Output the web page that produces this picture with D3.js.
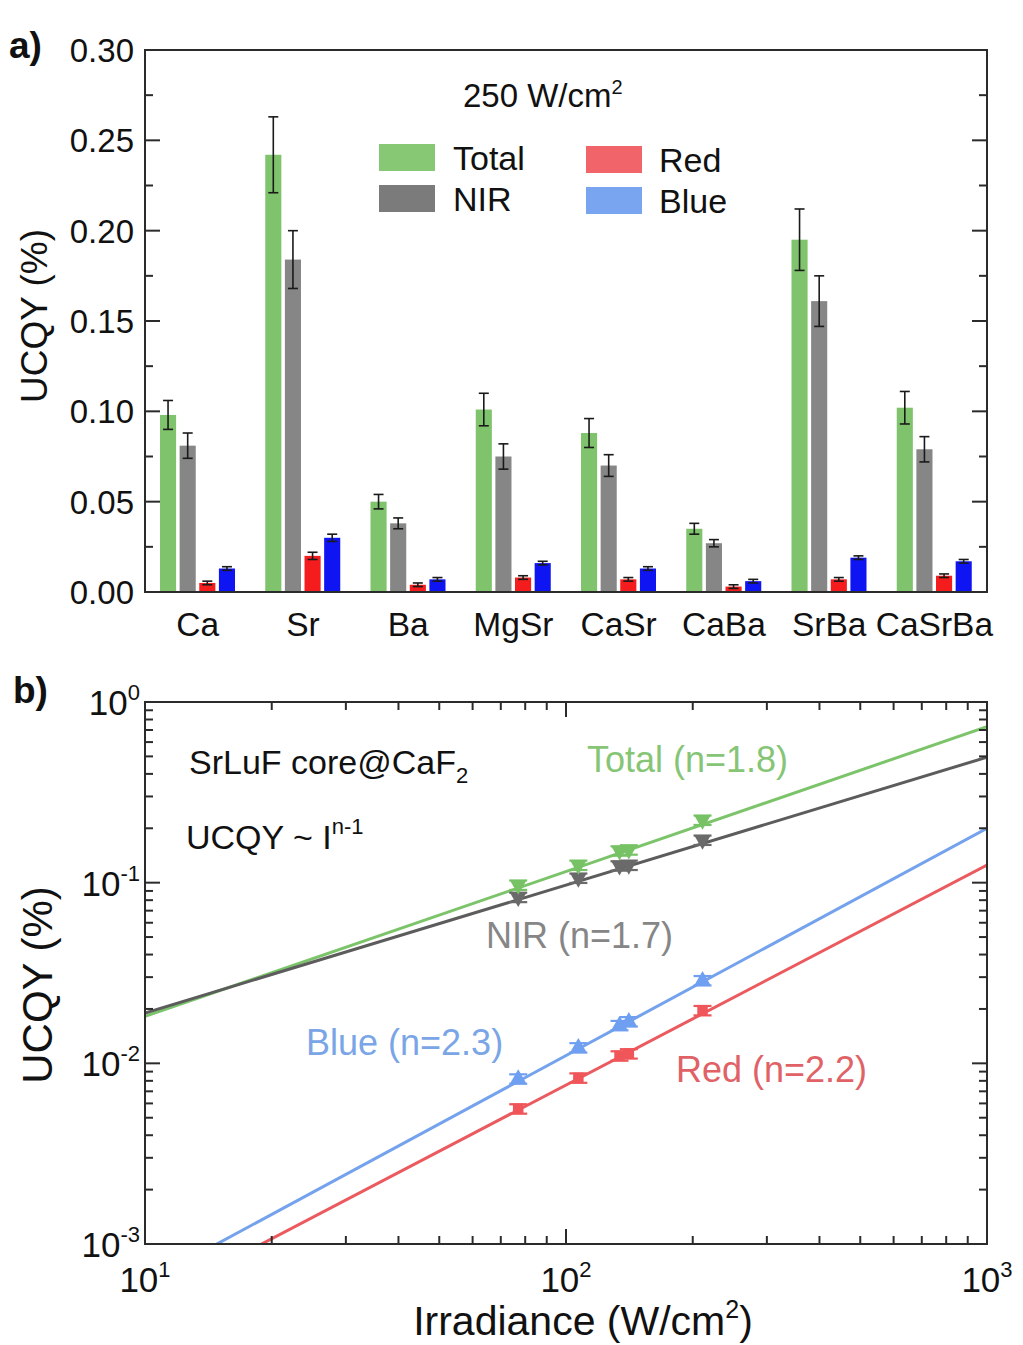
<!DOCTYPE html>
<html><head><meta charset="utf-8">
<script src="https://cdn.jsdelivr.net/npm/d3@7/dist/d3.min.js"></script>
<style>
body{margin:0;background:#fff;}
svg{display:block;font-family:Arial,"Liberation Sans",sans-serif;}
</style></head>
<body>
<svg id="chart" width="1023" height="1345"></svg>
<script>
// ---------- Panel a data ----------
const categories = ["Ca","Sr","Ba","MgSr","CaSr","CaBa","SrBa","CaSrBa"];
const seriesNames = ["Total","NIR","Red","Blue"];
const totalVals = [0.098,0.242,0.050,0.101,0.088,0.035,0.195,0.102];
const totalErr  = [0.008,0.021,0.004,0.009,0.008,0.003,0.017,0.009];
const nirVals   = [0.081,0.184,0.038,0.075,0.070,0.027,0.161,0.079];
const nirErr    = [0.007,0.016,0.003,0.007,0.006,0.002,0.014,0.007];
const redVals   = [0.005,0.020,0.004,0.008,0.007,0.003,0.007,0.009];
const redErr    = [0.001,0.002,0.001,0.001,0.001,0.001,0.001,0.001];
const blueVals  = [0.013,0.030,0.007,0.016,0.013,0.006,0.019,0.017];
const blueErr   = [0.001,0.002,0.001,0.001,0.001,0.001,0.001,0.001];
const barTicks  = [0,0.05,0.10,0.15,0.20,0.25,0.30];

// ---------- Panel b data ----------
const irradiance = [77,107,134,141,211];
const totalQY = [0.097,0.125,0.150,0.152,0.222];
const nirQY   = [0.083,0.106,0.124,0.125,0.172];
const blueQY  = [0.0082,0.0122,0.0162,0.0170,0.0287];
const redQY   = [0.0056,0.0083,0.0110,0.0113,0.0196];
const relErr  = [0.06,0.06,0.06,0.06,0.06];
const fitIrr  = [10,1000];
const totalFit = [0.0182,0.73];
const nirFit   = [0.019,0.495];
const blueFit  = [0.00061,0.20];
const redFit   = [0.00046,0.125];
const logYTicks = [1,0.1,0.01,0.001];
const logXTicks = [10,100,1000];

const svg = d3.select("#chart");
const frameColor = "#2b2b2b";

// ================= Panel a =================
const A = {l:145,r:987,t:50,b:592};
const xA = d3.scaleBand().domain(categories).range([A.l,A.r]).padding(0);
const xSub = d3.scaleBand().domain(seriesNames).range([15,90]).paddingInner(0.18);
const yA = d3.scaleLinear().domain([0,0.30]).range([A.b,A.t]);

const barColors = {Total:"#7fc46c",NIR:"#868686",Red:"#f41c1c",Blue:"#0f14f2"};
const legendColors = {Total:"#86c873",NIR:"#7b7b7b",Red:"#f0646a",Blue:"#78a4f0"};
const vals = {Total:totalVals,NIR:nirVals,Red:redVals,Blue:blueVals};
const errs = {Total:totalErr,NIR:nirErr,Red:redErr,Blue:blueErr};

const gA = svg.append("g");
seriesNames.forEach(s=>{
  const g = gA.append("g");
  categories.forEach((c,i)=>{
    const x0 = xA(c)+xSub(s), w = xSub.bandwidth(), v = vals[s][i], e = errs[s][i];
    g.append("rect").attr("x",x0).attr("y",yA(v)).attr("width",w).attr("height",yA(0)-yA(v))
      .attr("fill",barColors[s]);
    const cx = x0+w/2;
    const eg = g.append("g").attr("stroke","#1a1a1a").attr("stroke-width",1.6);
    eg.append("line").attr("x1",cx).attr("x2",cx).attr("y1",yA(v+e)).attr("y2",yA(v-e));
    eg.append("line").attr("x1",cx-5).attr("x2",cx+5).attr("y1",yA(v+e)).attr("y2",yA(v+e));
    eg.append("line").attr("x1",cx-5).attr("x2",cx+5).attr("y1",yA(v-e)).attr("y2",yA(v-e));
  });
});

gA.append("rect").attr("x",A.l).attr("y",A.t).attr("width",A.r-A.l).attr("height",A.b-A.t)
  .attr("fill","none").attr("stroke",frameColor).attr("stroke-width",2);

const yMinor = d3.range(0.025,0.30,0.05);
const tickG = gA.append("g").attr("stroke",frameColor).attr("stroke-width",2);
barTicks.forEach(t=>{
  tickG.append("line").attr("x1",A.l).attr("x2",A.l+15).attr("y1",yA(t)).attr("y2",yA(t));
  tickG.append("line").attr("x1",A.r).attr("x2",A.r-15).attr("y1",yA(t)).attr("y2",yA(t));
});
yMinor.forEach(t=>{
  tickG.append("line").attr("x1",A.l).attr("x2",A.l+8).attr("y1",yA(t)).attr("y2",yA(t));
  tickG.append("line").attr("x1",A.r).attr("x2",A.r-8).attr("y1",yA(t)).attr("y2",yA(t));
});
barTicks.forEach(t=>{
  gA.append("text").attr("x",134).attr("y",yA(t)).attr("dy","0.36em").attr("text-anchor","end")
    .attr("font-size",33).attr("fill","#111").text(d3.format(".2f")(t));
});
categories.forEach(c=>{
  gA.append("text").attr("x",xA(c)+xA.bandwidth()/2).attr("y",636).attr("text-anchor","middle")
    .attr("font-size",33.5).attr("fill","#111").text(c);
});
gA.append("text").attr("transform","translate(47,316) rotate(-90)").attr("text-anchor","middle")
  .attr("font-size",37).attr("fill","#111").text("UCQY (%)");
gA.append("text").attr("x",9).attr("y",58).attr("font-size",37).attr("font-weight","bold").attr("fill","#111").text("a)");

const tt = gA.append("text").attr("x",463).attr("y",107).attr("font-size",33).attr("fill","#111");
tt.append("tspan").text("250 W/cm");
tt.append("tspan").attr("font-size",20).attr("dy",-13).text("2");

const legPos = {Total:[379,144],NIR:[379,185],Red:[586,146],Blue:[586,187]};
seriesNames.forEach(s=>{
  const [lx,ly] = legPos[s];
  gA.append("rect").attr("x",lx).attr("y",ly).attr("width",56).attr("height",27).attr("fill",legendColors[s]);
  gA.append("text").attr("x",lx+(s==="Total"||s==="NIR"?74:73)).attr("y",ly+26).attr("font-size",34).attr("fill","#111").text(s);
});

// ================= Panel b =================
const B = {l:145,r:987,t:702,b:1244};
const xB = d3.scaleLog().domain([10,1000]).range([B.l,B.r]);
const yB = d3.scaleLog().domain([0.001,1]).range([B.b,B.t]);
const gB = svg.append("g");

const clip = svg.append("defs").append("clipPath").attr("id","clipB");
clip.append("rect").attr("x",B.l).attr("y",B.t).attr("width",B.r-B.l).attr("height",B.b-B.t);

const lineColors = {Total:"#7cc46a",NIR:"#5c5c5c",Blue:"#74a2ec",Red:"#ea5a5e"};
const markColors = {Total:"#76c265",NIR:"#6a6a6a",Blue:"#6f9ff0",Red:"#ef5559"};
const fits = {Total:totalFit,NIR:nirFit,Blue:blueFit,Red:redFit};
const qys = {Total:totalQY,NIR:nirQY,Blue:blueQY,Red:redQY};
const symbols = {Total:d3.symbolTriangle,NIR:d3.symbolTriangle,Blue:d3.symbolTriangle,Red:d3.symbolSquare};
const rotate = {Total:180,NIR:180,Blue:0,Red:0};

const line = d3.line().x(d=>xB(d[0])).y(d=>yB(d[1]));
const plotG = gB.append("g").attr("clip-path","url(#clipB)");
["Total","NIR","Blue","Red"].forEach(s=>{
  plotG.append("path").datum(fitIrr.map((x,i)=>[x,fits[s][i]]))
    .attr("d",line).attr("fill","none").attr("stroke",lineColors[s]).attr("stroke-width",3);
});
["NIR","Total","Red","Blue"].forEach(s=>{
  irradiance.forEach((x,i)=>{
    const v = qys[s][i], e = v*relErr[i];
    const cx = xB(x), cy = yB(v);
    const eg = plotG.append("g").attr("stroke",markColors[s]).attr("stroke-width",2.2);
    eg.append("line").attr("x1",cx).attr("x2",cx).attr("y1",yB(v+e)).attr("y2",yB(v-e));
    eg.append("line").attr("x1",cx-9).attr("x2",cx+9).attr("y1",yB(v+e)).attr("y2",yB(v+e));
    eg.append("line").attr("x1",cx-9).attr("x2",cx+9).attr("y1",yB(v-e)).attr("y2",yB(v-e));
    plotG.append("path").attr("d",d3.symbol().type(symbols[s]).size(s==="Red"?110:120)())
      .attr("transform",`translate(${cx},${cy}) rotate(${rotate[s]})`).attr("fill",markColors[s]);
  });
});

gB.append("rect").attr("x",B.l).attr("y",B.t).attr("width",B.r-B.l).attr("height",B.b-B.t)
  .attr("fill","none").attr("stroke",frameColor).attr("stroke-width",2);

const tB = gB.append("g").attr("stroke",frameColor).attr("stroke-width",2);
[10,100,1000].forEach(d=>{
  [1,2,3,4,5,6,7,8,9].forEach(m=>{
    const v = d*m; if(v>1000) return;
    const len = m===1?15:8;
    tB.append("line").attr("x1",xB(v)).attr("x2",xB(v)).attr("y1",B.b).attr("y2",B.b-len);
    tB.append("line").attr("x1",xB(v)).attr("x2",xB(v)).attr("y1",B.t).attr("y2",B.t+len);
  });
});
[0.001,0.01,0.1,1].forEach(d=>{
  [1,2,3,4,5,6,7,8,9].forEach(m=>{
    const v = d*m; if(v>1) return;
    const len = m===1?15:8;
    tB.append("line").attr("y1",yB(v)).attr("y2",yB(v)).attr("x1",B.l).attr("x2",B.l+len);
    tB.append("line").attr("y1",yB(v)).attr("y2",yB(v)).attr("x1",B.r).attr("x2",B.r-len);
  });
});
logXTicks.forEach(v=>{
  const t = gB.append("text").attr("x",xB(v)).attr("y",1292).attr("text-anchor","middle").attr("font-size",35).attr("fill","#111");
  t.append("tspan").text("10");
  t.append("tspan").attr("font-size",22).attr("dy",-15).text(Math.round(Math.log10(v)));
});
logYTicks.forEach(v=>{
  const t = gB.append("text").attr("x",140).attr("y",yB(v)+13).attr("text-anchor","end").attr("font-size",35).attr("fill","#111");
  t.append("tspan").text("10");
  t.append("tspan").attr("font-size",22).attr("dy",-15).text(Math.round(Math.log10(v)));
});
const xt = gB.append("text").attr("x",583).attr("y",1335).attr("text-anchor","middle").attr("font-size",41).attr("fill","#111");
xt.append("tspan").text("Irradiance (W/cm");
xt.append("tspan").attr("font-size",25).attr("dy",-17).text("2");
xt.append("tspan").attr("dy",17).text(")");
gB.append("text").attr("transform","translate(52,985) rotate(-90)").attr("text-anchor","middle")
  .attr("font-size",42).attr("fill","#111").text("UCQY (%)");
gB.append("text").attr("x",13).attr("y",703).attr("font-size",37).attr("font-weight","bold").attr("fill","#111").text("b)");

const s1 = gB.append("text").attr("x",189).attr("y",774).attr("font-size",34).attr("fill","#111");
s1.append("tspan").text("SrLuF core@CaF");
s1.append("tspan").attr("font-size",22).attr("dy",9).text("2");
const s2 = gB.append("text").attr("x",186).attr("y",849).attr("font-size",34).attr("fill","#111");
s2.append("tspan").text("UCQY ~ I");
s2.append("tspan").attr("font-size",22).attr("dy",-15).text("n-1");

const labels = [
  {t:"Total (n=1.8)",x:587,y:772,c:"#86c576"},
  {t:"NIR (n=1.7)",x:486,y:948,c:"#868686"},
  {t:"Blue (n=2.3)",x:306,y:1055,c:"#7aa5e6"},
  {t:"Red (n=2.2)",x:676,y:1082,c:"#e06266"}
];
labels.forEach(l=>{
  gB.append("text").attr("x",l.x).attr("y",l.y).attr("font-size",36).attr("fill",l.c).text(l.t);
});
</script>
</body></html>
